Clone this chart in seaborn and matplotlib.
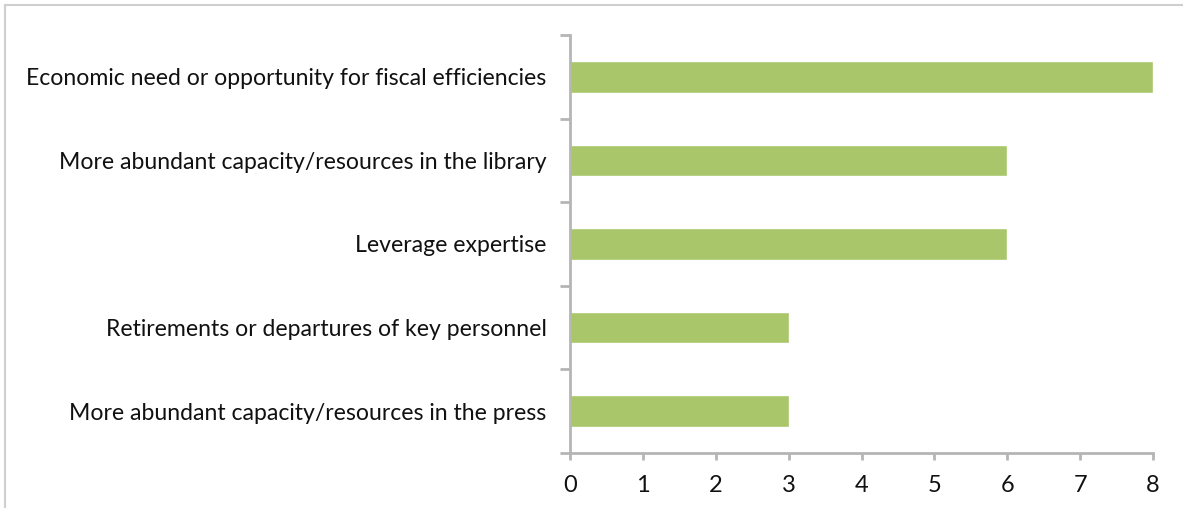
import matplotlib
matplotlib.use("Agg")
import matplotlib.pyplot as plt
from matplotlib.lines import Line2D
import seaborn as sns
import pandas as pd
import numpy as np

categories = [
    "Economic need or opportunity for fiscal efficiencies",
    "More abundant capacity/resources in the library",
    "Leverage expertise",
    "Retirements or departures of key personnel",
    "More abundant capacity/resources in the press",
]
counts = [8, 6, 6, 3, 3]
x_ticks = [0, 1, 2, 3, 4, 5, 6, 7, 8]

sns.set_theme(style="white")
plt.rcParams["font.family"] = ["Lato", "DejaVu Sans"]

df = pd.DataFrame({"reason": categories, "count": counts})

fig = plt.figure(figsize=(11.83, 5.08), dpi=100)
ax = fig.add_axes([570 / 1183, 1 - 453 / 508, (1153 - 570) / 1183, (453 - 35) / 508])

sns.barplot(data=df, y="reason", x="count", orient="h", color="#A9C76A",
            saturation=1, width=0.38, ax=ax)

ax.set_xlim(0, 8)
ax.set_ylim(len(categories) - 0.5, -0.5)
ax.set_xticks(x_ticks)
ax.set_xlabel("")
ax.set_ylabel("")

axis_grey = "#b5b5b5"
for side in ("top", "right"):
    ax.spines[side].set_visible(False)
for side in ("left", "bottom"):
    ax.spines[side].set_visible(True)
    ax.spines[side].set_color(axis_grey)
    ax.spines[side].set_linewidth(2)

# category boundaries carry the y tick marks
ax.set_yticks(np.arange(-0.5, len(categories), 1.0), minor=True)
ax.tick_params(axis="y", which="major", length=0, pad=17, labelsize=16.6, labelcolor="#111111")
ax.tick_params(axis="y", which="minor", left=True, length=7, width=2, color=axis_grey)
ax.tick_params(axis="x", which="major", bottom=True, length=5, width=2, color=axis_grey,
               pad=11, labelsize=17, labelcolor="#111111")

# thin frame along the top and left of the figure
fig.add_artist(Line2D([5 / 1183, 1], [1 - 5 / 508, 1 - 5 / 508], transform=fig.transFigure,
                      color="#cfcfcf", linewidth=1.5))
fig.add_artist(Line2D([5 / 1183, 5 / 1183], [0, 1 - 5 / 508], transform=fig.transFigure,
                      color="#cfcfcf", linewidth=1.5))

fig.savefig("out.png", dpi=100)
